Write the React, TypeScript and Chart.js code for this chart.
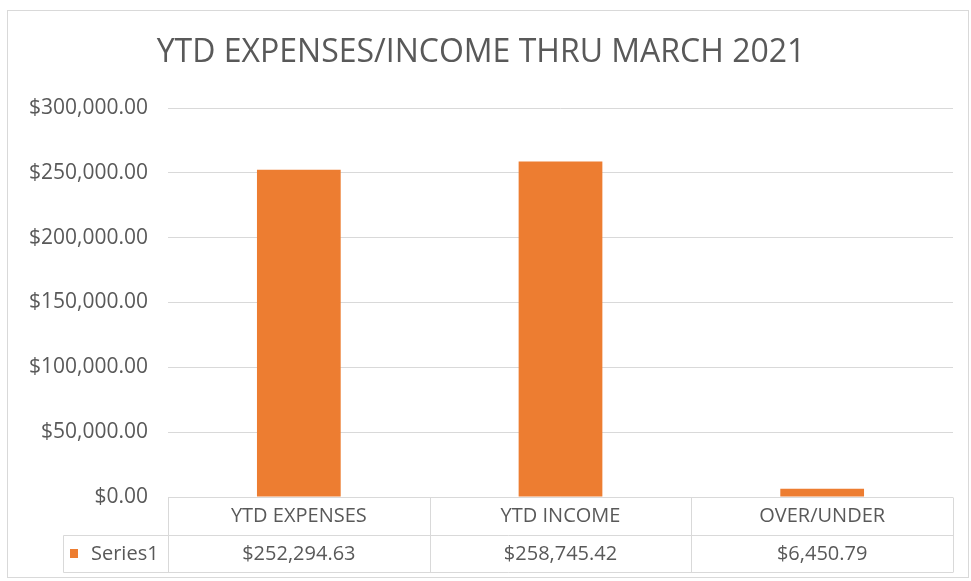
import React, { useEffect, useRef } from "react";
import { Chart, registerables } from "chart.js";

Chart.register(...registerables);

const chartTitle = "YTD EXPENSES/INCOME THRU MARCH 2021";
const categories = ["YTD EXPENSES", "YTD INCOME", "OVER/UNDER"];
const seriesName = "Series1";
const seriesValues = [252294.63, 258745.42, 6450.79];
const yMin = 0;
const yMax = 300000;
const yStep = 50000;

const TEXT = "#595959";
const LINE = "#D9D9D9";
const BAR = "#ED7D31";
const FONT = "'Open Sans', 'Liberation Sans', sans-serif";

function money(v: number): string {
  const neg = v < 0;
  const fixed = Math.abs(v).toFixed(2);
  const [ip, dp] = fixed.split(".");
  const withCommas = ip.replace(/\B(?=(\d{3})+(?!\d))/g, ",");
  return (neg ? "-" : "") + "$" + withCommas + "." + dp;
}

const framePlugin = {
  id: "frame",
  beforeDraw(chart: any) {
    const ctx = chart.ctx;
    ctx.save();
    ctx.fillStyle = "#ffffff";
    ctx.fillRect(0, 0, chart.width, chart.height);
    ctx.strokeStyle = LINE;
    ctx.lineWidth = 1;
    ctx.strokeRect(7.5, 10.5, chart.width - 10, chart.height - 14);
    ctx.fillStyle = TEXT;
    ctx.font = `32px ${FONT}`;
    ctx.textAlign = "center";
    ctx.textBaseline = "middle";
    ctx.fillText(chartTitle, 481, 53);
    ctx.restore();
  },
};

const tablePlugin = {
  id: "dataTable",
  afterDraw(chart: any) {
    const ctx = chart.ctx;
    const area = chart.chartArea;
    const xs = chart.scales.x;
    const n = categories.length;
    const cw = (area.right - area.left) / n;
    const top = Math.round(area.bottom) + 0.5;
    const row1 = top + 38;
    const row2 = top + 75;
    const legendLeft = 63.5;
    ctx.save();
    ctx.strokeStyle = LINE;
    ctx.lineWidth = 1;
    ctx.beginPath();
    ctx.moveTo(area.left, top);
    ctx.lineTo(area.right, top);
    ctx.moveTo(legendLeft, row1);
    ctx.lineTo(area.right, row1);
    ctx.moveTo(legendLeft, row2);
    ctx.lineTo(area.right, row2);
    for (let i = 0; i <= n; i++) {
      const x = Math.round(area.left + i * cw) + 0.5;
      ctx.moveTo(x, top);
      ctx.lineTo(x, row2);
    }
    ctx.moveTo(legendLeft, row1);
    ctx.lineTo(legendLeft, row2);
    ctx.stroke();

    ctx.fillStyle = TEXT;
    ctx.font = `20px ${FONT}`;
    ctx.textAlign = "center";
    ctx.textBaseline = "middle";
    categories.forEach((c, i) => {
      const cx = xs.getPixelForValue(i);
      ctx.fillText(c, cx, (top + row1) / 2);
      ctx.fillText(money(seriesValues[i]), cx, (row1 + row2) / 2);
    });
    // legend key + series name
    ctx.fillStyle = BAR;
    ctx.fillRect(70, (row1 + row2) / 2 - 5, 8, 9);
    ctx.fillStyle = TEXT;
    ctx.textAlign = "left";
    ctx.fillText(seriesName, 91, (row1 + row2) / 2);
    ctx.restore();
  },
};

export default function App() {
  const ref = useRef<HTMLCanvasElement | null>(null);
  useEffect(() => {
    if (!ref.current) return;
    const chart = new Chart(ref.current, {
      type: "bar",
      data: {
        labels: categories,
        datasets: [
          {
            label: seriesName,
            data: seriesValues,
            backgroundColor: BAR,
            borderWidth: 0,
            barPercentage: 0.32,
            categoryPercentage: 1,
          },
        ],
      },
      options: {
        responsive: false,
        animation: false,
        layout: { padding: { left: 0, right: 18, top: 108, bottom: 84 } },
        plugins: {
          legend: { display: false },
          title: { display: false },
          tooltip: { enabled: false },
        },
        scales: {
          x: { display: false },
          y: {
            min: yMin,
            max: yMax,
            ticks: {
              stepSize: yStep,
              color: TEXT,
              padding: 20,
              font: { family: FONT, size: 21 },
              callback: (v: any) => money(Number(v)),
            },
            grid: { color: LINE, drawTicks: false },
            border: { display: false },
            afterFit: (scale: any) => {
              scale.width = 168;
            },
          },
        },
      },
      plugins: [framePlugin, tablePlugin],
    });
    return () => chart.destroy();
  }, []);
  return (
    <div style={{ position: "absolute", left: 0, top: 0 }}>
      <canvas ref={ref} width={971} height={581} />
    </div>
  );
}
